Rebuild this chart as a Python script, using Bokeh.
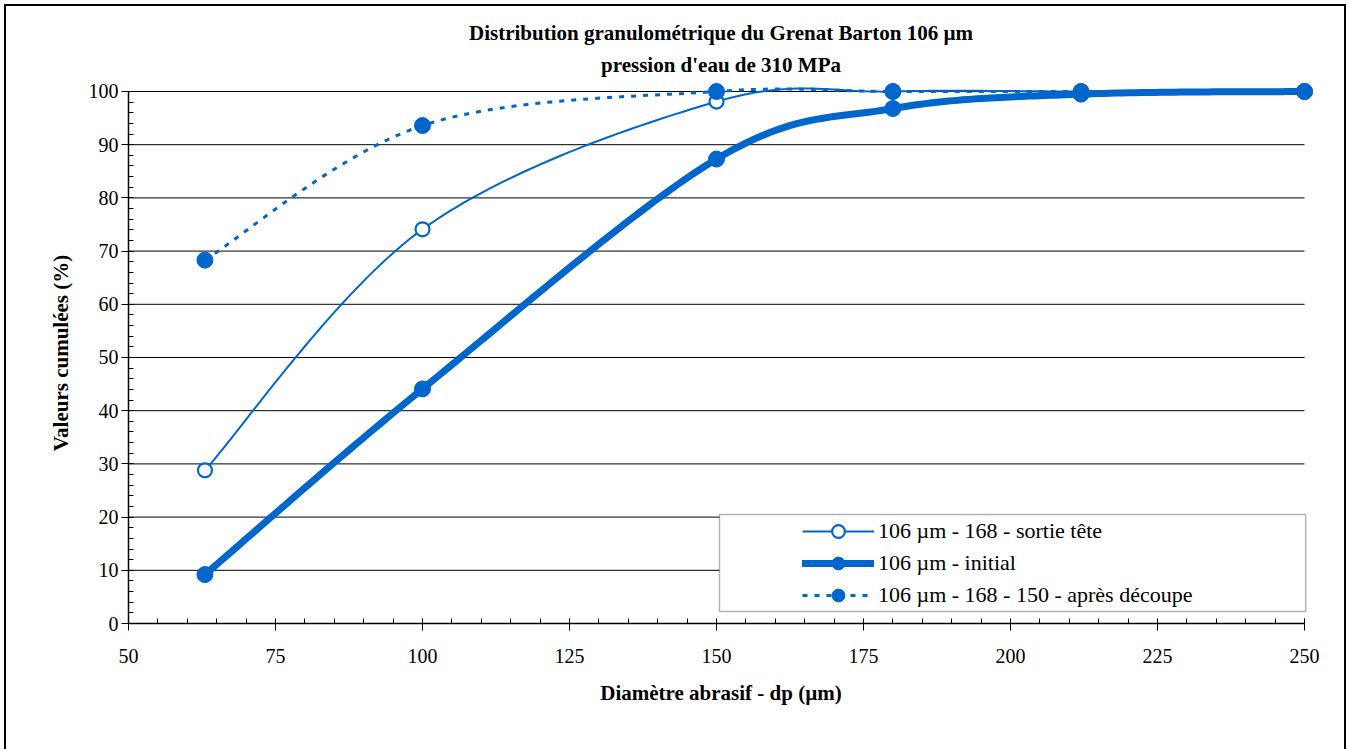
import numpy as np
from bokeh.plotting import figure
from bokeh.models import (Legend, LegendItem, BoxAnnotation, FixedTicker, Title)
from bokeh.embed import file_html
from bokeh.resources import INLINE

# ---- data ----
diam = [63, 100, 150, 180, 212, 250]
sortie_tete = [28.8, 74.1, 98.1, 100.0, 100.0, 100.0]
initial = [9.2, 44.1, 87.3, 96.8, 99.5, 100.0]
apres_decoupe = [68.3, 93.6, 100.0, 100.0, 100.0, 100.0]

labels = ["106 µm - 168 - sortie tête", "106 µm - initial", "106 µm - 168 - 150 - après découpe"]
title_lines = ["Distribution granulométrique du Grenat Barton 106 µm", "pression d'eau de 310 MPa"]
x_ticks = [50, 75, 100, 125, 150, 175, 200, 225, 250]
y_ticks = [0, 10, 20, 30, 40, 50, 60, 70, 80, 90, 100]

BLUE = "#0066CC"
FONT = "Liberation Serif"


def smooth(xs, ys, n=40):
    """Excel-like smoothed line (Catmull-Rom / Bezier, tension 1/6)."""
    P = np.column_stack([xs, ys]).astype(float)
    m = len(P)
    out = []
    for i in range(m - 1):
        p0 = P[i - 1] if i > 0 else P[i]
        p1 = P[i]
        p2 = P[i + 1]
        p3 = P[i + 2] if i + 2 < m else P[i + 1]
        c1 = p1 + (p2 - p0) / 6.0
        c2 = p2 - (p3 - p1) / 6.0
        t = np.linspace(0, 1, n)[:, None]
        seg = ((1 - t) ** 3) * p1 + 3 * ((1 - t) ** 2) * t * c1 + 3 * (1 - t) * t ** 2 * c2 + t ** 3 * p2
        if i > 0:
            seg = seg[1:]
        out.append(seg)
    arr = np.vstack(out)
    return arr[:, 0], arr[:, 1]


# ranges padded slightly so markers at 250 / 100 are not clipped
p = figure(width=1342, height=745, x_range=(50, 251.53), y_range=(0, 101.69),
           output_backend="svg", toolbar_location=None,
           min_border_left=122, min_border_right=35, min_border_top=76, min_border_bottom=128)
p.styles = {"border-top": "2px solid black", "border-left": "2px solid black",
            "border-right": "2px solid black", "margin-left": "4px", "margin-top": "4px"}

# two-line title, each line centred (later added = outer)
for txt, off in ((title_lines[1], 12), (title_lines[0], 0)):
    p.add_layout(Title(text=txt, align="center", text_font=FONT, text_font_size="21px",
                       text_font_style="bold", text_color="black", offset=-15, standoff=off,
                       text_line_height=0.8), "above")

p.outline_line_color = None
p.background_fill_color = "white"
p.border_fill_color = "white"

p.xgrid.visible = False
p.ygrid.visible = False
# horizontal gridlines limited to the axis extent
p.segment(x0=x_ticks[0], x1=x_ticks[-1], y0=y_ticks, y1=y_ticks, line_color="black", line_width=1)

p.xaxis.ticker = FixedTicker(ticks=x_ticks, minor_ticks=list(range(50, 251, 5)))
p.yaxis.ticker = FixedTicker(ticks=y_ticks, minor_ticks=list(range(0, 101, 2)))
p.xaxis.bounds = (x_ticks[0], x_ticks[-1])
p.yaxis.bounds = (y_ticks[0], y_ticks[-1])
for ax in (p.xaxis[0], p.yaxis[0]):
    ax.axis_line_color = "black"
    ax.axis_line_width = 1.5
    ax.major_tick_line_color = "black"
    ax.minor_tick_line_color = "black"
    ax.major_tick_in = 5
    ax.major_tick_out = 7
    ax.minor_tick_in = 5
    ax.minor_tick_out = 0
    ax.major_label_text_font = FONT
    ax.major_label_text_font_size = "20px"
    ax.major_label_text_color = "black"
    ax.axis_label_text_font = FONT
    ax.axis_label_text_font_size = "21px"
    ax.axis_label_text_font_style = "bold"
    ax.axis_label_text_color = "black"

p.xaxis.axis_label = "Diamètre abrasif - dp (µm)"
p.yaxis.axis_label = "Valeurs cumulées (%)"
p.xaxis.major_label_standoff = 18
p.yaxis.major_label_standoff = 3
p.xaxis.axis_label_standoff = 15
p.yaxis.axis_label_standoff = 13

# series
sx, sy = smooth(diam, sortie_tete)
l1 = p.line(sx, sy, line_color=BLUE, line_width=2)
m1 = p.scatter(diam, sortie_tete, marker="circle", size=14, line_color=BLUE, line_width=2.2, fill_color="white")

ix, iy = smooth(diam, initial)
l2 = p.line(ix, iy, line_color=BLUE, line_width=7, line_cap="round", line_join="round")
m2 = p.scatter(diam, initial, marker="circle", size=16, line_color=BLUE, fill_color=BLUE)

ax_, ay_ = smooth(diam, apres_decoupe)
l3 = p.line(ax_, ay_, line_color=BLUE, line_width=3, line_dash="5 7")
m3 = p.scatter(diam, apres_decoupe, marker="circle", size=16, line_color=BLUE, fill_color=BLUE)

# legend box
box = BoxAnnotation(left=150.5, right=250.2, top=20.5, bottom=2.25,
                    fill_color="white", fill_alpha=1.0, line_color="black", line_width=1.5,
                    level="annotation")
p.add_layout(box)

legend = Legend(items=[LegendItem(label=labels[0], renderers=[l1, m1]),
                       LegendItem(label=labels[1], renderers=[l2, m2]),
                       LegendItem(label=labels[2], renderers=[l3, m3])],
                location=(668, 6), padding=6, spacing=0,
                glyph_width=72, glyph_height=32, label_height=20, label_standoff=4,
                border_line_alpha=0, background_fill_alpha=0,
                label_text_font=FONT, label_text_font_size="22px", label_text_color="black")
p.add_layout(legend, "center")

open("out.html", "w").write(file_html(p, INLINE))
